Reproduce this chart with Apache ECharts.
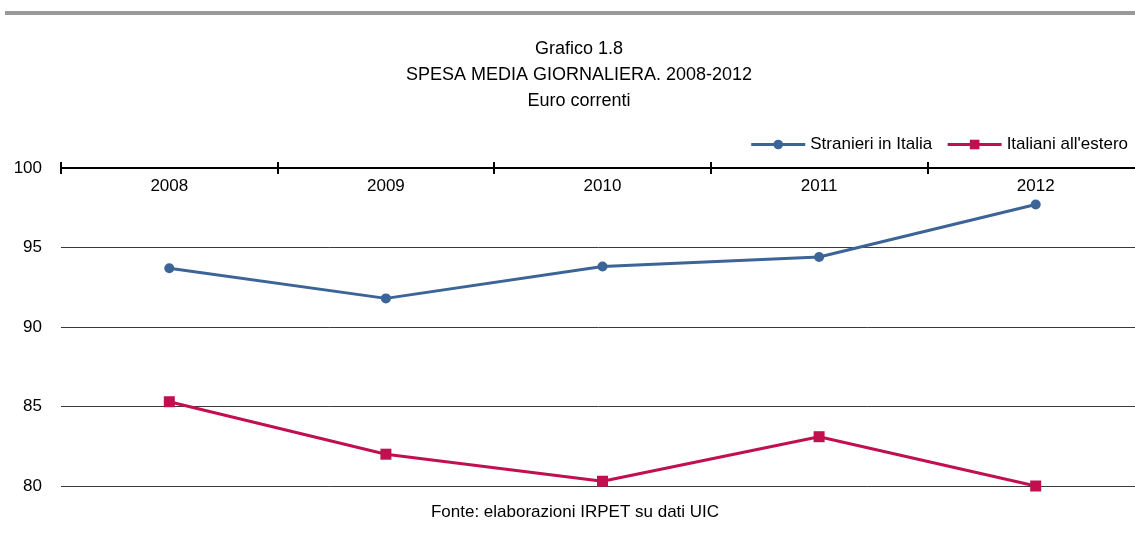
<!DOCTYPE html>
<html>
<head>
<meta charset="utf-8">
<script src="https://cdn.jsdelivr.net/npm/echarts@6/dist/echarts.min.js"></script>
<style>
  html, body { margin: 0; padding: 0; background: #fff; }
  #chart { width: 1135px; height: 547px; }
</style>
</head>
<body>
<div id="chart"></div>
<script>
const years = ['2008', '2009', '2010', '2011', '2012'];
const stranieri = [93.7, 91.8, 93.8, 94.4, 97.7];
const italiani = [85.3, 82.0, 80.3, 83.1, 80.0];
const yTicks = { min: 80, max: 100, step: 5 };

const font = "'Liberation Sans', Arial, sans-serif";
const chart = echarts.init(document.getElementById('chart'));

const option = {
  backgroundColor: '#fff',
  textStyle: { fontFamily: font, color: '#000' },
  graphic: [
    { type: 'rect', shape: { x: 5, y: 11, width: 1135, height: 4 }, style: { fill: '#999' } },
    {
      type: 'text', x: 579, y: 36,
      style: {
        text: 'Grafico 1.8\nSPESA MEDIA GIORNALIERA. 2008-2012\nEuro correnti',
        align: 'center', verticalAlign: 'top', font: '18px ' + font, lineHeight: 26, fill: '#000'
      }
    },
    {
      type: 'text', x: 575, y: 512,
      style: {
        text: 'Fonte: elaborazioni IRPET su dati UIC', align: 'center', verticalAlign: 'middle',
        font: '17px ' + font, fill: '#000'
      }
    }
  ],
  legend: {
    right: 2, top: 131,
    itemWidth: 54, itemHeight: 12, itemGap: 14,
    lineStyle: { width: 3 },
    textStyle: { fontSize: 17, fontFamily: font, color: '#000' },
    data: ['Stranieri in Italia', "Italiani all'estero"]
  },
  grid: { left: 61, width: 1083, top: 168, bottom: 61, outerBoundsMode: 'none' },
  xAxis: [
    {
      type: 'category', position: 'top', data: years, boundaryGap: true,
      axisLine: { lineStyle: { color: '#000', width: 2 } },
      axisTick: { show: true, length: 6, lineStyle: { color: '#000', width: 2 } },
      axisLabel: { inside: true, margin: 10, fontSize: 17, color: '#000', fontFamily: font }
    },
    {
      type: 'category', position: 'top', data: years, boundaryGap: true,
      axisLine: { show: false },
      axisTick: { show: true, inside: true, length: 6, lineStyle: { color: '#000', width: 2 } },
      axisLabel: { show: false }
    }
  ],
  yAxis: {
    type: 'value', min: yTicks.min, max: yTicks.max, interval: yTicks.step,
    axisLine: { show: false }, axisTick: { show: false },
    axisLabel: { margin: 19, fontSize: 17, color: '#000', fontFamily: font },
    splitLine: { lineStyle: { color: '#3a3a3a', width: 1 } }
  },
  series: [
    {
      name: 'Stranieri in Italia', type: 'line', data: stranieri,
      symbol: 'circle', symbolSize: 10,
      lineStyle: { color: '#3c6497', width: 3 },
      itemStyle: { color: '#3c6497' }
    },
    {
      name: "Italiani all'estero", type: 'line', data: italiani,
      symbol: 'rect', symbolSize: 11,
      lineStyle: { color: '#c0104f', width: 3 },
      itemStyle: { color: '#c0104f' }
    }
  ]
};

chart.setOption(option);
</script>
</body>
</html>
